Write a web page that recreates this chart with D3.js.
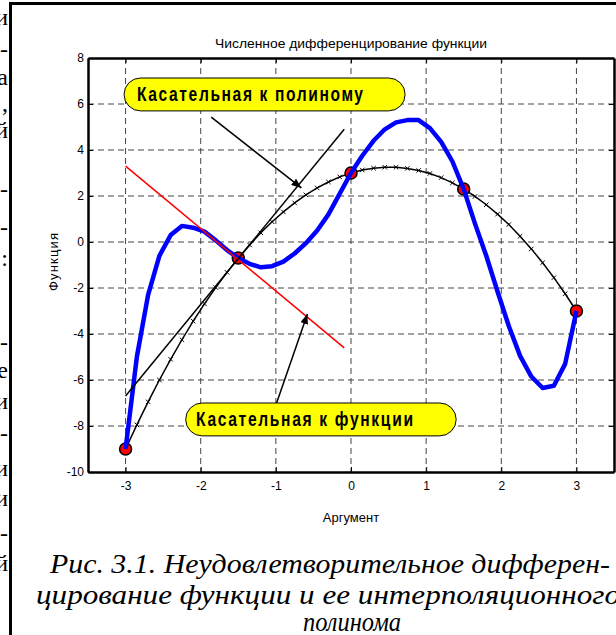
<!DOCTYPE html>
<html>
<head>
<meta charset="utf-8">
<script src="https://cdn.jsdelivr.net/npm/d3@7"></script>
<style>
    body { margin: 0; background: #fff; }
    svg { display: block; }
</style>
</head>
<body>
<svg id="chart" width="616" height="635"></svg>
<script>
// Arguments at which both the function and the polynomial were sampled (step 0.15)
var argValues = [-3, -2.85, -2.7, -2.55, -2.4, -2.25, -2.1, -1.95, -1.8, -1.65, -1.5, -1.35, -1.2, -1.05,
    -0.9, -0.75, -0.6, -0.45, -0.3, -0.15, 0, 0.15, 0.3, 0.45, 0.6, 0.75, 0.9, 1.05, 1.2, 1.35, 1.5, 1.65,
    1.8, 1.95, 2.1, 2.25, 2.4, 2.55, 2.7, 2.85, 3];

// blue curve - the function itself
var funcValues = [-9.0, -5.0, -2.3, -0.6, 0.3, 0.7, 0.62, 0.45, 0.07, -0.35, -0.7, -0.95, -1.1, -1.05,
    -0.85, -0.5, -0.05, 0.5, 1.2, 2.1, 3.0, 3.75, 4.4, 4.9, 5.2, 5.3, 5.3, 4.95, 4.35, 3.5, 2.3, 0.8,
    -0.6, -2.15, -3.65, -4.95, -5.85, -6.35, -6.25, -5.3, -3.0];

// black curve with x markers - the interpolation polynomial
var polyValues = [-9.0, -7.95, -6.95, -6.0, -5.1, -4.25, -3.44, -2.69, -1.98, -1.32, -0.7, -0.13, 0.4,
    0.88, 1.31, 1.7, 2.05, 2.35, 2.61, 2.83, 3.0, 3.13, 3.21, 3.25, 3.25, 3.2, 3.11, 2.98, 2.8, 2.57, 2.3,
    1.98, 1.62, 1.21, 0.76, 0.25, -0.3, -0.9, -1.55, -2.25, -3.0];

// interpolation nodes (red circles)
var nodeArgs = [-3, -1.5, 0, 1.5, 3];
var nodeValues = [-9, -0.7, 3, 2.3, -3];

// tangent segments at x = -1.5 (end points)
var funcTangentArgs = [-3, -0.09];
var funcTangentValues = [3.3, -4.6];
var polyTangentArgs = [-3, -0.09];
var polyTangentValues = [-6.7, 4.9];

var xTicks = [-3, -2, -1, 0, 1, 2, 3];
var yTicks = [-10, -8, -6, -4, -2, 0, 2, 4, 6, 8];

var titleText = "Численное дифференцирование функции";
var xLabelText = "Аргумент";
var yLabelText = "Функция";
var noteTexts = ["Касательная к полиному", "Касательная к функции"];
var captionLines = ["Рис. 3.1. Неудовлетворительное дифферен-",
    "цирование функции  и ее интерполяционного", "полинома"];
// line endings of the neighbouring text column, cut by the page edge
var sideGlyphs = ["и", "-", "а", ",", "й", "-", "-", ":", "-", "е", "и", "-", "и", "и", "-", "й"];

chart();

function chart() {
    var svg = d3.select("#chart");
    var sans = "'Liberation Sans', Arial, Helvetica, sans-serif";
    var serif = "'Liberation Serif', 'Times New Roman', Times, serif";

    // plot box in pixels
    var box = {left: 88, right: 614, top: 58, bottom: 472};

    var x = d3.scaleLinear().domain([-3.5, 3.5]).range([box.left, box.right]);
    var y = d3.scaleLinear().domain([-10, 8]).range([box.bottom, box.top]);

    // page frame and the cut off text column on the left
    svg.append("path")
        .attr("d", "M10.5,700V3.5H700")
        .attr("fill", "none").attr("stroke", "#000").attr("stroke-width", 3);

    var sideY = [25, 57, 85, 111, 138, 197, 235, 266, 350, 378, 409, 441, 476, 506, 541, 571];
    svg.append("g").selectAll("text")
        .data(sideGlyphs)
        .join("text")
        .attr("x", 8)
        .attr("y", (d, i) => sideY[i])
        .attr("text-anchor", "end")
        .style("font-family", serif)
        .style("font-size", "24px")
        .text(d => d);

    // dashed grid
    var grid = svg.append("g").attr("stroke", "#444").attr("stroke-width", 1)
        .attr("stroke-dasharray", "6,4");
    grid.selectAll("line.gx")
        .data(xTicks)
        .join("line").attr("class", "gx")
        .attr("x1", d => x(d)).attr("x2", d => x(d))
        .attr("y1", box.top).attr("y2", box.bottom);
    grid.selectAll("line.gy")
        .data(yTicks.filter(d => d > -10 && d < 8))
        .join("line").attr("class", "gy")
        .attr("x1", box.left).attr("x2", box.right)
        .attr("y1", d => y(d)).attr("y2", d => y(d));

    // axes, MATLAB style inward ticks on all four sides
    var fmt = d => String(d);
    svg.append("g")
        .attr("transform", `translate(0,${box.bottom})`)
        .call(d3.axisBottom(x).tickValues(xTicks).tickSize(-5).tickSizeOuter(0).tickPadding(9).tickFormat(fmt));
    svg.append("g")
        .attr("transform", `translate(${box.left},0)`)
        .call(d3.axisLeft(y).tickValues(yTicks).tickSize(-5).tickSizeOuter(0).tickPadding(4).tickFormat(fmt));
    svg.append("g")
        .attr("transform", `translate(0,${box.top})`)
        .call(d3.axisTop(x).tickValues(xTicks).tickSize(-5).tickSizeOuter(0).tickFormat(""));
    svg.append("g")
        .attr("transform", `translate(${box.right},0)`)
        .call(d3.axisRight(y).tickValues(yTicks).tickSize(-5).tickSizeOuter(0).tickFormat(""));

    svg.selectAll(".domain").attr("stroke", "#000").attr("stroke-width", 2.5);
    svg.selectAll(".tick line").attr("stroke", "#000").attr("stroke-width", 1);
    svg.selectAll(".tick text").style("font-family", sans).style("font-size", "12px").attr("fill", "#000");

    // titles
    svg.append("text")
        .attr("x", 351).attr("y", 48)
        .attr("text-anchor", "middle")
        .attr("textLength", 272).attr("lengthAdjust", "spacingAndGlyphs")
        .style("font-family", sans).style("font-size", "13px")
        .text(titleText);
    svg.append("text")
        .attr("x", 351).attr("y", 522)
        .attr("text-anchor", "middle")
        .style("font-family", sans).style("font-size", "13px")
        .text(xLabelText);
    svg.append("text")
        .attr("transform", "translate(58,262) rotate(-90)")
        .attr("text-anchor", "middle")
        .attr("textLength", 58).attr("lengthAdjust", "spacing")
        .style("font-family", sans).style("font-size", "13px")
        .text(yLabelText);

    var pts = argValues.map((a, i) => ({a: a, f: funcValues[i], p: polyValues[i]}));

    // interpolation polynomial with x markers
    svg.append("path")
        .datum(pts)
        .attr("d", d3.line().x(d => x(d.a)).y(d => y(d.p)))
        .attr("fill", "none").attr("stroke", "#000").attr("stroke-width", 1.5);
    svg.append("g").selectAll("path")
        .data(pts)
        .join("path")
        .attr("d", d => {
            var cx = x(d.a), cy = y(d.p), s = 2.2;
            return `M${cx - s},${cy - s}L${cx + s},${cy + s}M${cx - s},${cy + s}L${cx + s},${cy - s}`;
        })
        .attr("stroke", "#000").attr("stroke-width", 1);

    // nodes
    svg.append("g").selectAll("circle")
        .data(nodeArgs)
        .join("circle")
        .attr("cx", d => x(d))
        .attr("cy", (d, i) => y(nodeValues[i]))
        .attr("r", 6)
        .attr("fill", "#f00").attr("stroke", "#000").attr("stroke-width", 1.5);

    // the function
    svg.append("path")
        .datum(pts)
        .attr("d", d3.line().x(d => x(d.a)).y(d => y(d.f)))
        .attr("fill", "none").attr("stroke", "#0000ff").attr("stroke-width", 4.5)
        .attr("stroke-linejoin", "round");

    // tangents
    svg.append("line")
        .attr("x1", x(funcTangentArgs[0])).attr("y1", y(funcTangentValues[0]))
        .attr("x2", x(funcTangentArgs[1])).attr("y2", y(funcTangentValues[1]))
        .attr("stroke", "#f00").attr("stroke-width", 1.5);
    svg.append("line")
        .attr("x1", x(polyTangentArgs[0])).attr("y1", y(polyTangentValues[0]))
        .attr("x2", x(polyTangentArgs[1])).attr("y2", y(polyTangentValues[1]))
        .attr("stroke", "#000").attr("stroke-width", 1.5);

    // annotation call-outs: yellow pills with arrows
    var defs = svg.append("defs");
    defs.append("marker")
        .attr("id", "head")
        .attr("viewBox", "0 0 10 8")
        .attr("refX", 10).attr("refY", 4)
        .attr("markerWidth", 10).attr("markerHeight", 8)
        .attr("markerUnits", "userSpaceOnUse")
        .attr("orient", "auto")
        .append("path").attr("d", "M0,0L10,4L0,8Z").attr("fill", "#000");

    var notePlaces = [
        {x0: -3.02, x1: 0.72, y0: 7.13, y1: 5.70, tx: 137, tl: 226, from: [-1.86, 5.43], to: [-0.66, 2.35]},
        {x0: -2.20, x1: 1.40, y0: -7.0, y1: -8.43, tx: 196, tl: 217, from: [-0.99, -7.0], to: [-0.58, -3.13]}
    ];
    var squeeze = 0.78;
    noteTexts.forEach((t, i) => {
        var p = notePlaces[i];
        var h = y(p.y1) - y(p.y0);
        svg.append("line")
            .attr("x1", x(p.from[0])).attr("y1", y(p.from[1]))
            .attr("x2", x(p.to[0])).attr("y2", y(p.to[1]))
            .attr("stroke", "#000").attr("stroke-width", 1.5)
            .attr("marker-end", "url(#head)");
        svg.append("rect")
            .attr("x", x(p.x0)).attr("y", y(p.y0))
            .attr("width", x(p.x1) - x(p.x0)).attr("height", h)
            .attr("rx", h / 2).attr("ry", h / 2)
            .attr("fill", "#ffff00").attr("stroke", "#000").attr("stroke-width", 1);
        // narrow, letter-spaced bold lettering
        svg.append("text")
            .attr("transform", `translate(${p.tx},${y(p.y0) + h / 2 + 7}) scale(${squeeze},1)`)
            .attr("textLength", p.tl / squeeze).attr("lengthAdjust", "spacing")
            .style("font-family", sans).style("font-size", "20px").style("font-weight", "bold")
            .text(t);
    });

    // figure caption, the scan is a little taller than wide
    var capX = [50, 36, 352], capY = [573, 604, 631], capLen = [560, 584, 98];
    captionLines.forEach((t, i) => {
        svg.append("text")
            .attr("transform", `translate(${capX[i]},${capY[i]}) scale(1,1.05)`)
            .attr("text-anchor", i == 2 ? "middle" : "start")
            .attr("textLength", capLen[i]).attr("lengthAdjust", "spacingAndGlyphs")
            .style("font-family", serif).style("font-style", "italic").style("font-size", "27px")
            .text(t);
    });
}
</script>
</body>
</html>
